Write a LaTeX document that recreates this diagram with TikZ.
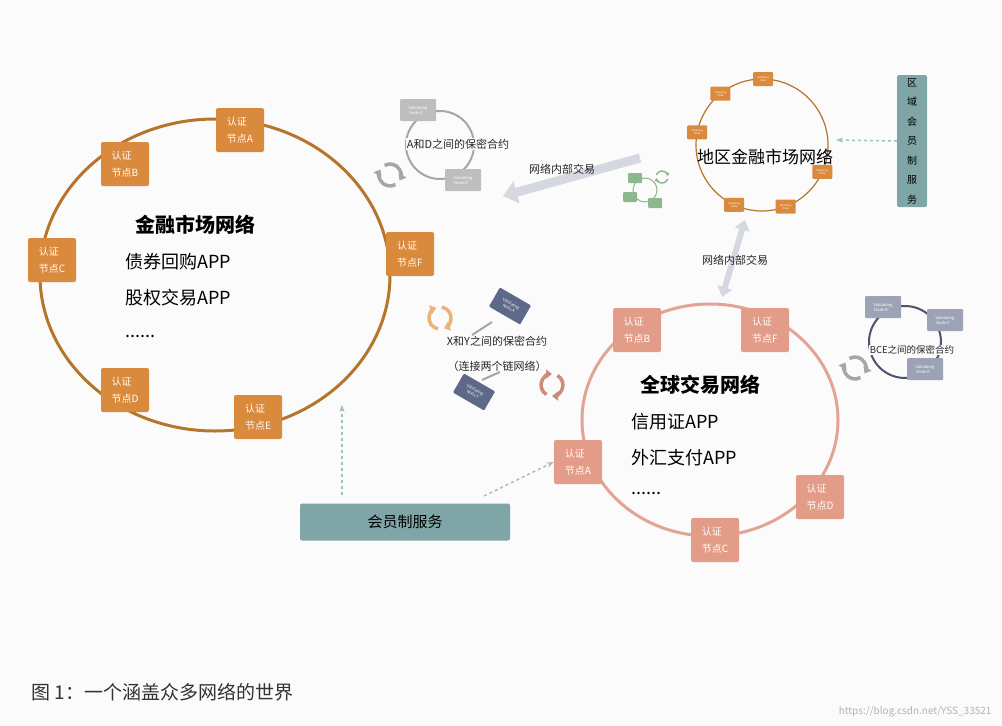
\documentclass[tikz,border=0pt]{standalone}
\usepackage{fontspec}
\setmainfont{Noto Sans CJK SC}
\usetikzlibrary{arrows.meta,shapes.geometric,calc}
\definecolor{brownring}{HTML}{B5762C}
\definecolor{orangebox}{HTML}{D98A3D}
\definecolor{salring}{HTML}{E3A395}
\definecolor{salbox}{HTML}{E29C88}
\definecolor{tealbox}{HTML}{7FA5A6}
\definecolor{slate}{HTML}{5E6888}
\definecolor{lslate}{HTML}{9DA3B6}
\definecolor{gbox}{HTML}{BEBEBE}
\definecolor{garrow}{HTML}{D5D8E0}
\definecolor{greenb}{HTML}{8DB88D}
\tikzset{x=1pt,y=-1pt,
 obox/.style={fill=orangebox,rounded corners=2pt,minimum width=48pt,minimum height=44pt,text=white,font=\fontsize{10}{17}\selectfont,align=left,inner sep=2pt},
 sbox/.style={obox,fill=salbox},
 tiny/.style={rounded corners=1pt,minimum width=36pt,minimum height=22pt,text=white,font=\fontsize{4}{5}\selectfont,align=center,inner sep=1pt},
 mini/.style={fill=orangebox,rounded corners=1pt,minimum width=20pt,minimum height=14pt,text=white,font=\fontsize{2.5}{3}\selectfont,align=center,inner sep=0pt},
 lbl/.style={font=\fontsize{11}{13}\selectfont,text=black!85},
 big/.style={font=\fontsize{20}{24}\selectfont\bfseries},
 app/.style={font=\fontsize{18}{22}\selectfont,anchor=west},
 dasharr/.style={draw=tealbox!70,dashed,line width=1.5pt,-{Stealth[length=7pt]}},
}
\newcommand{\refreshicon}[3]{% center, color
 \draw[#2,line width=3.5pt,-{Triangle[length=6pt,width=9pt]}] (#1) ++(#3:11) arc[start angle=#3,end angle=#3+150,radius=11];
 \draw[#2,line width=3.5pt,-{Triangle[length=6pt,width=9pt]}] (#1) ++(#3+180:11) arc[start angle=#3+180,end angle=#3+330,radius=11];}
\begin{document}
\begin{tikzpicture}
\fill[white!97!gray] (0,0) rectangle (1002,726);
\useasboundingbox (0,0) rectangle (1002,726);
% left ring
\draw[brownring,line width=3pt] (215,275) ellipse[x radius=175,y radius=156];
\node[obox] (lA) at (240,130) {认证\\节点A};
\node[obox] (lB) at (125,164) {认证\\节点B};
\node[obox] (lC) at (52,260) {认证\\节点C};
\node[obox] (lF) at (410,254) {认证\\节点F};
\node[obox] (lD) at (125,390) {认证\\节点D};
\node[obox] (lE) at (258,417) {认证\\节点E};
\node[big] (t1) at (195,225) {金融市场网络};
\node[app] (a1) at (122,262) {债券回购APP};
\node[app] (a2) at (122,298) {股权交易APP};
\node[app] (a3) at (122,336) {......};
% right ring
\draw[salring,line width=3pt] (710,420) ellipse[x radius=128,y radius=116];
\node[sbox] (rB) at (637,330) {认证\\节点B};
\node[sbox] (rF) at (765,330) {认证\\节点F};
\node[sbox] (rA) at (578,462) {认证\\节点A};
\node[sbox] (rD) at (820,497) {认证\\节点D};
\node[sbox] (rC) at (715,540) {认证\\节点C};
\node[big] (t2) at (700,385) {全球交易网络};
\node[app] (b1) at (628,422) {信用证APP};
\node[app] (b2) at (628,458) {外汇支付APP};
\node[app] (b3) at (628,493) {......};
% regional
\draw[brownring,line width=1.2pt] (762,145) circle[radius=66];
\foreach \n/\a in {m1/-129,m2/-89,m3/-169,m4/24,m5/69,m6/115}{
 \node[mini] (\n) at ($(762,145)+(\a:66)$) {Validating\\Node};}
\draw[greenb,line width=1pt] (645,190) circle[radius=12];
\node[mini,fill=greenb,minimum width=14pt,minimum height=10pt] (g1) at (635,178) {};
\node[mini,fill=greenb,minimum width=14pt,minimum height=10pt] (g2) at (630,197) {};
\node[mini,fill=greenb,minimum width=14pt,minimum height=10pt] (g3) at (655,203) {};
\draw[greenb,line width=1.5pt,-{Triangle[length=3pt,width=4pt]}] (662,177) ++(20:6) arc[start angle=20,end angle=170,radius=6];
\draw[greenb,line width=1.5pt,-{Triangle[length=3pt,width=4pt]}] (662,177) ++(200:6) arc[start angle=200,end angle=350,radius=6];
\node[font=\fontsize{17}{20}\selectfont] (t3) at (765,157) {地区金融市场网络};
\node[fill=tealbox,rounded corners=2pt,minimum width=30pt,minimum height=132pt,align=center,font=\fontsize{10}{19.5}\selectfont,inner sep=1pt] (vreg) at (912,141) {区\\域\\会\\员\\制\\服\\务};
\coordinate (ve) at (836,140);
\draw[dasharr] (vreg.west) -- (ve);
% member service
\node[fill=tealbox,rounded corners=2pt,minimum width=210pt,minimum height=37pt,font=\fontsize{15}{18}\selectfont] (ms) at (405,522) {会员制服务};
\coordinate (m1e) at (342,405);
\coordinate (m1s) at (342,495);
\draw[dasharr] (m1s) -- (m1e);
\coordinate (m2s) at (484,496);
\draw[dasharr] (m2s) -- (rA.west);
% gray arrows
\coordinate (ga1) at (640,158);
\coordinate (ga2) at (503,196);
\draw[garrow,line width=9pt,-{Triangle[length=14pt,width=22pt]}] (ga1) -- (ga2);
\node[lbl] (l1) at (562,169) {网络内部交易};
\coordinate (gb1) at (745,220);
\coordinate (gb2) at (722,297);
\draw[garrow,line width=6pt,{Triangle[length=10pt,width=15pt]}-{Triangle[length=10pt,width=15pt]}] (gb1) -- (gb2);
\node[lbl] (l2) at (735,260) {网络内部交易};
% A and D
\draw[gray!70,line width=2pt] (440,145) circle[radius=34];
\node[tiny,fill=gbox] (vA) at (418,110) {Validating\\Node A'};
\node[tiny,fill=gbox] (vD) at (463,180) {Validating\\Node D'};
\node[lbl,fill=white!97!gray,inner sep=1pt] (l3) at (458,144) {A和D之间的保密合约};
\refreshicon{390,175}{gray!70}{60}
% X and Y
\draw[gray!70,line width=2pt] (492,322) -- (472,335);
\draw[gray!70,line width=2pt] (482,380) -- (500,372);
\node[tiny,fill=slate,rotate=-30] (vX) at (510,306) {Validating\\Node X};
\node[tiny,fill=slate,rotate=-30] (vY) at (474,392) {Validating\\Node Y};
\node[lbl] (l4) at (497,341) {X和Y之间的保密合约};
\node[lbl] (l5) at (497,366) {（连接两个链网络）};
\refreshicon{440,318}{brown!50!orange!60}{100}
\refreshicon{552,385}{salbox!90!black}{-60}
% BCE
\draw[slate!80!black,line width=2pt] (905,342) circle[radius=36];
\node[tiny,fill=lslate] (vB) at (883,307) {Validating\\Node B'};
\node[tiny,fill=lslate] (vC) at (945,320) {Validating\\Node C'};
\node[tiny,fill=lslate] (vE) at (925,369) {Validating\\Node E'};
\node[lbl,font=\fontsize{9.5}{11}\selectfont,fill=white!97!gray,inner sep=1pt] (l6) at (912,350) {BCE之间的保密合约};
\refreshicon{855,368}{gray!70}{60}
% caption
\node[anchor=west,font=\fontsize{19}{22}\selectfont\itshape,text=black!80] (cap) at (28,692) {图 1：一个涵盖众多网络的世界};
\node[anchor=east,font=\fontsize{10}{12}\selectfont,text=gray!60] (wm) at (995,712) {https://blog.csdn.net/YSS\_33521};
\end{tikzpicture}
\end{document}
